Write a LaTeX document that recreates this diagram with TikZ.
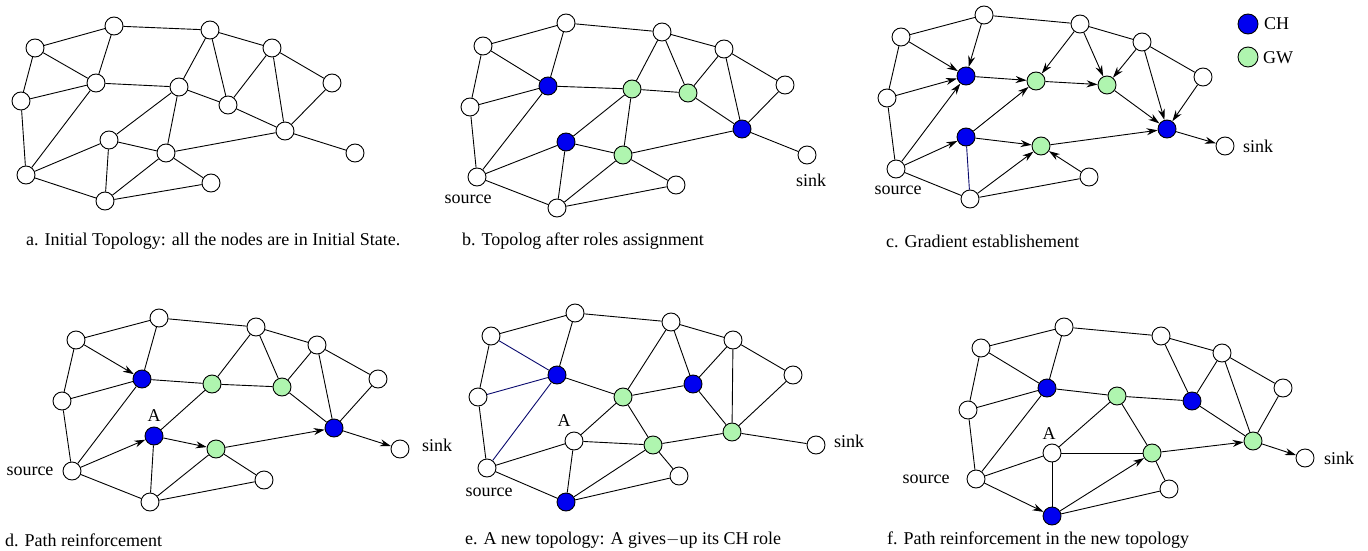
\documentclass[tikz,border=0pt]{standalone}
\usepackage{fontspec}
\setmainfont{Liberation Serif}
\usetikzlibrary{arrows.meta}
\definecolor{chblue}{RGB}{0,0,240}
\definecolor{gwgreen}{RGB}{175,245,175}
\definecolor{navyline}{RGB}{10,10,110}
\begin{document}
\begin{tikzpicture}[x=1pt,y=-1pt,
  nd/.style={circle,draw,line width=0.9pt,minimum size=18pt,inner sep=0pt,fill=white},
  ch/.style={nd,fill=chblue},
  gw/.style={nd,fill=gwgreen},
  ed/.style={line width=0.9pt},
  nv/.style={line width=0.9pt,draw=navyline},
  ar/.style={line width=0.9pt,-{Stealth[length=11pt,width=7pt]}},
  lbl/.style={font=\fontsize{18}{21}\selectfont,inner sep=0pt},
  captxt/.style={lbl,anchor=west}]
\useasboundingbox (0,0) rectangle (1368,551);

% ---------------- panel a ----------------
\node[nd] (a1) at (114,26) {};
\node[nd] (a2) at (35,48) {};
\node[nd] (a3) at (210,30) {};
\node[nd] (a4) at (272,48) {};
\node[nd] (a5) at (96,83) {};
\node[nd] (a6) at (179,87) {};
\node[nd] (a7) at (228,105) {};
\node[nd] (a8) at (332,83) {};
\node[nd] (a9) at (21,101) {};
\node[nd] (a10) at (109,140) {};
\node[nd] (a11) at (285,131) {};
\node[nd] (a12) at (166,153) {};
\node[nd] (a13) at (355,153) {};
\node[nd] (a14) at (26,175) {};
\node[nd] (a15) at (211,183) {};
\node[nd] (a16) at (105,201) {};
\foreach \u/\v in {2/1,1/3,3/4,4/8,2/5,1/5,2/9,9/5,9/14,14/5,5/6,6/3,3/7,7/4,6/7,7/11,4/11,8/11,11/13,6/10,6/12,10/12,12/11,10/14,10/16,14/16,16/12,12/15,16/15}
  \draw[ed] (a\u) -- (a\v);
\node[captxt] (capa) at (26,241) {a. Initial Topology: all the nodes are in Initial State.};

% ---------------- panel b ----------------
\node[nd] (b1) at (566,23) {};
\node[nd] (b2) at (483,46) {};
\node[nd] (b3) at (662,32) {};
\node[nd] (b4) at (724,49) {};
\node[ch] (b5) at (548,86) {};
\node[gw] (b6) at (632,89) {};
\node[gw] (b7) at (688,93) {};
\node[nd] (b8) at (785,85) {};
\node[nd] (b9) at (470,107) {};
\node[ch] (b10) at (566,142) {};
\node[ch] (b11) at (742,129) {};
\node[gw] (b12) at (623,155) {};
\node[nd] (b13) at (807,155) {};
\node[nd] (b14) at (477,177) {};
\node[nd] (b15) at (676,185) {};
\node[nd] (b16) at (557,208) {};
\foreach \u/\v in {2/1,1/3,3/4,4/8,2/5,1/5,2/9,9/5,9/14,14/5,5/6,6/3,3/7,7/4,6/7,7/11,4/11,8/11,11/13,6/10,6/12,10/12,12/11,10/14,10/16,14/16,16/12,12/15,16/15}
  \draw[ed] (b\u) -- (b\v);
\node[lbl] (srcb) at (468,199) {source};
\node[lbl] (sinkb) at (811,180) {sink};
\node[captxt] (capb) at (462,241) {b. Topolog after roles assignment};

% ---------------- panel c ----------------
\node[nd] (c1) at (984,15) {};
\node[nd] (c2) at (901,37) {};
\node[nd] (c3) at (1080,24) {};
\node[nd] (c4) at (1142,42) {};
\node[ch] (c5) at (966,76) {};
\node[gw] (c6) at (1036,81) {};
\node[gw] (c7) at (1107,85) {};
\node[nd] (c8) at (1203,77) {};
\node[nd] (c9) at (887,98) {};
\node[ch] (c10) at (966,137) {};
\node[ch] (c11) at (1167,129) {};
\node[gw] (c12) at (1041,146) {};
\node[nd] (c13) at (1225,146) {};
\node[nd] (c14) at (896,169) {};
\node[nd] (c15) at (1089,177) {};
\node[nd] (c16) at (970,199) {};
\foreach \u/\v in {2/1,1/3,3/4,4/8,2/9,9/14,14/16,16/15}
  \draw[ed] (c\u) -- (c\v);
\draw[nv] (c10) -- (c16);
\foreach \u/\v in {2/5,1/5,9/5,14/5,5/6,3/6,3/7,4/7,6/7,7/11,4/11,8/11,11/13,10/6,10/12,14/10,16/12,15/12,12/11}
  \draw[ar] (c\u) -- (c\v);
\node[lbl] (srcc) at (898,190) {source};
\node[lbl] (sinkc) at (1258,146) {sink};
\node[ch,minimum size=20pt] (legch) at (1248,24) {};
\node[gw,minimum size=20pt] (leggw) at (1248,57) {};
\node[lbl,anchor=west] (legcht) at (1264,24) {CH};
\node[lbl,anchor=west] (leggwt) at (1263,58) {GW};
\node[captxt] (capc) at (886,241) {c. Gradient establishement};

% ---------------- panel d ----------------
\node[nd] (d1) at (159,318) {};
\node[nd] (d2) at (76,340) {};
\node[nd] (d3) at (256,327) {};
\node[nd] (d4) at (317,345) {};
\node[ch] (d5) at (142,379) {};
\node[gw] (d6) at (212,384) {};
\node[gw] (d7) at (282,387) {};
\node[nd] (d8) at (378,379) {};
\node[nd] (d9) at (62,401) {};
\node[ch] (d10) at (154,436) {};
\node[ch] (d11) at (334,428) {};
\node[gw] (d12) at (216,449) {};
\node[nd] (d13) at (400,449) {};
\node[nd] (d14) at (72,471) {};
\node[nd] (d15) at (264,480) {};
\node[nd] (d16) at (150,502) {};
\foreach \u/\v in {2/1,1/3,3/4,4/8,1/5,2/9,9/5,9/14,14/5,5/6,6/3,3/7,7/4,6/7,7/11,4/11,8/11,6/10,10/16,14/16,16/12,12/15,16/15}
  \draw[ed] (d\u) -- (d\v);
\foreach \u/\v in {2/5,11/13,10/12,12/11,14/10}
  \draw[ar] (d\u) -- (d\v);
\node[lbl] (srcd) at (30,471) {source};
\node[lbl] (sinkd) at (437,445) {sink};
\node[lbl] (Ad) at (154,416) {A};
\node[captxt] (capd) at (5,540) {d. Path reinforcement};

% ---------------- panel e ----------------
\node[nd] (e1) at (575,313) {};
\node[nd] (e2) at (491,336) {};
\node[nd] (e3) at (671,322) {};
\node[nd] (e4) at (733,340) {};
\node[ch] (e5) at (557,375) {};
\node[gw] (e6) at (623,397) {};
\node[ch] (e7) at (693,384) {};
\node[nd] (e8) at (793,375) {};
\node[nd] (e9) at (478,397) {};
\node[nd] (e10) at (574,441) {};
\node[gw] (e11) at (732,432) {};
\node[gw] (e12) at (653,445) {};
\node[nd] (e13) at (816,445) {};
\node[nd] (e14) at (487,468) {};
\node[nd] (e15) at (679,476) {};
\node[ch] (e16) at (566,502) {};
\foreach \u/\v in {2/1,1/3,3/4,4/8,1/5,2/9,9/14,5/6,6/3,3/7,7/4,6/7,7/11,4/11,8/11,11/13,6/10,6/12,10/12,12/11,10/14,10/16,14/16,16/12,12/15,16/15}
  \draw[ed] (e\u) -- (e\v);
\foreach \u/\v in {2/5,9/5,14/5}
  \draw[nv] (e\u) -- (e\v);
\node[lbl] (srce) at (489,492) {source};
\node[lbl] (sinke) at (849,441) {sink};
\node[lbl] (Ae) at (564,421) {A};
\node[captxt] (cape) at (465,540) {e. A new topology: A gives$-$up its CH role};

% ---------------- panel f ----------------
\node[nd] (f1) at (1064,327) {};
\node[nd] (f2) at (981,348) {};
\node[nd] (f3) at (1161,336) {};
\node[nd] (f4) at (1222,353) {};
\node[ch] (f5) at (1047,388) {};
\node[gw] (f6) at (1117,396) {};
\node[ch] (f7) at (1192,401) {};
\node[nd] (f8) at (1283,388) {};
\node[nd] (f9) at (968,410) {};
\node[nd] (f10) at (1052,453) {};
\node[gw] (f11) at (1253,441) {};
\node[gw] (f12) at (1152,453) {};
\node[nd] (f13) at (1305,458) {};
\node[nd] (f14) at (976,479) {};
\node[nd] (f15) at (1169,489) {};
\node[ch] (f16) at (1052,516) {};
\foreach \u/\v in {2/1,1/3,3/4,4/8,2/5,1/5,2/9,9/5,9/14,14/5,5/6,3/7,7/4,6/7,7/11,4/11,8/11,6/10,6/12,10/12,10/14,10/16,12/15,16/15}
  \draw[ed] (f\u) -- (f\v);
\foreach \u/\v in {11/13,12/11,14/16,16/12}
  \draw[ar] (f\u) -- (f\v);
\node[lbl] (srcf) at (926,479) {source};
\node[lbl] (sinkf) at (1339,458) {sink};
\node[lbl] (Af) at (1049,434) {A};
\node[captxt] (capf) at (887,540) {f. Path reinforcement in the new topology};
\end{tikzpicture}
\end{document}
